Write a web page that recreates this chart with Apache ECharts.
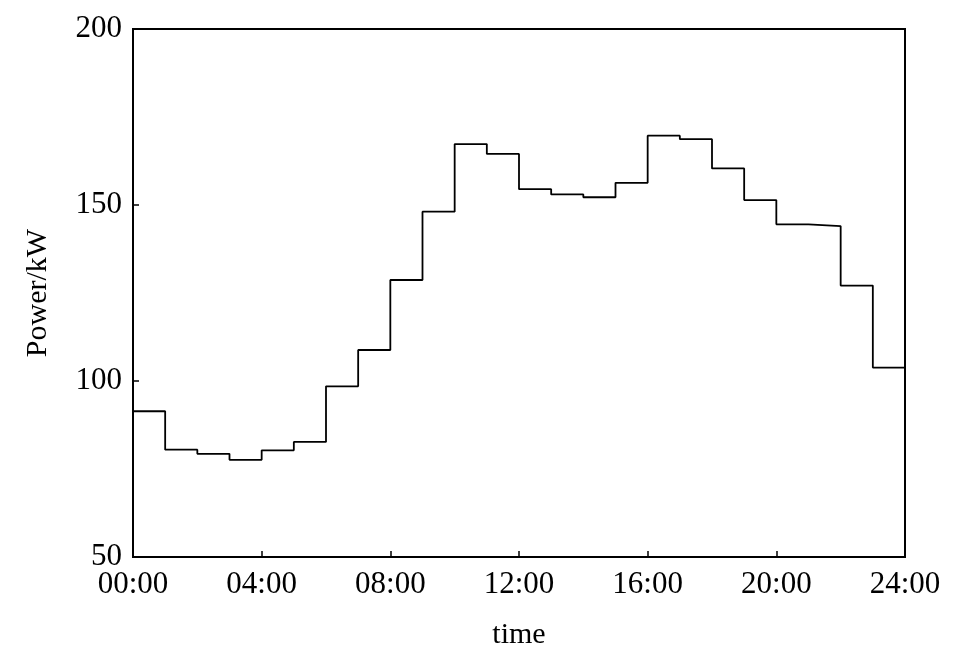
<!DOCTYPE html>
<html>
<head>
<meta charset="utf-8">
<script src="https://cdn.jsdelivr.net/npm/echarts@6/dist/echarts.min.js"></script>
<style>
  html, body { margin: 0; padding: 0; background: #fff; }
  #chart { width: 955px; height: 660px; }
</style>
</head>
<body>
<div id="chart"></div>
<script>
// hour index (start of each hourly step), 0..24
var hours = [0, 1, 2, 3, 4, 5, 6, 7, 8, 9, 10, 11, 12, 13, 14, 15, 16, 17, 18, 19, 20, 21, 22, 23, 24];
// hourly power, kW (last value repeated to close the final step at 24:00)
var power = [91.4, 80.5, 79.3, 77.6, 80.3, 82.7, 98.5, 108.8, 128.7, 148.1, 167.3, 164.5,
             154.5, 153.0, 152.2, 156.3, 169.7, 168.7, 160.4, 151.4, 144.5, 144.0, 127.1, 103.8, 103.8];
var yTicks = [50, 100, 150, 200];

var chart = echarts.init(document.getElementById('chart'));
var font = 'Liberation Serif, Times New Roman, serif';

var option = {
    animation: false,
    backgroundColor: '#fff',
    grid: {
        left: 133,
        right: 50,
        top: 29,
        bottom: 103,
        show: true,
        borderColor: '#000',
        borderWidth: 2,
        backgroundColor: 'transparent'
    },
    xAxis: {
        type: 'value',
        min: 0,
        max: 24,
        interval: 4,
        name: 'time',
        nameLocation: 'middle',
        nameGap: 63,
        nameTextStyle: { fontFamily: font, fontSize: 30, color: '#000' },
        axisLine: { show: true, lineStyle: { color: '#000', width: 2 } },
        axisTick: { show: true, inside: true, length: 6, lineStyle: { color: '#000', width: 1.5 } },
        axisLabel: {
            margin: 12,
            fontFamily: font,
            fontSize: 31,
            color: '#000',
            formatter: function (v) {
                return (v < 10 ? '0' : '') + v + ':00';
            }
        },
        splitLine: { show: false }
    },
    yAxis: {
        type: 'value',
        min: yTicks[0],
        max: yTicks[yTicks.length - 1],
        interval: 50,
        name: 'Power/kW',
        nameLocation: 'middle',
        nameGap: 80,
        nameTextStyle: { fontFamily: font, fontSize: 30, color: '#000' },
        axisLine: { show: true, lineStyle: { color: '#000', width: 2 } },
        axisTick: { show: true, inside: true, length: 6, lineStyle: { color: '#000', width: 1.5 } },
        axisLabel: { margin: 11, fontFamily: font, fontSize: 31, color: '#000' },
        splitLine: { show: false }
    },
    series: [{
        type: 'line',
        step: 'end',
        showSymbol: false,
        lineStyle: { color: '#000', width: 1.8 },
        data: hours.map(function (h, i) { return [h, power[i]]; })
    }]
};

chart.setOption(option);
</script>
</body>
</html>
